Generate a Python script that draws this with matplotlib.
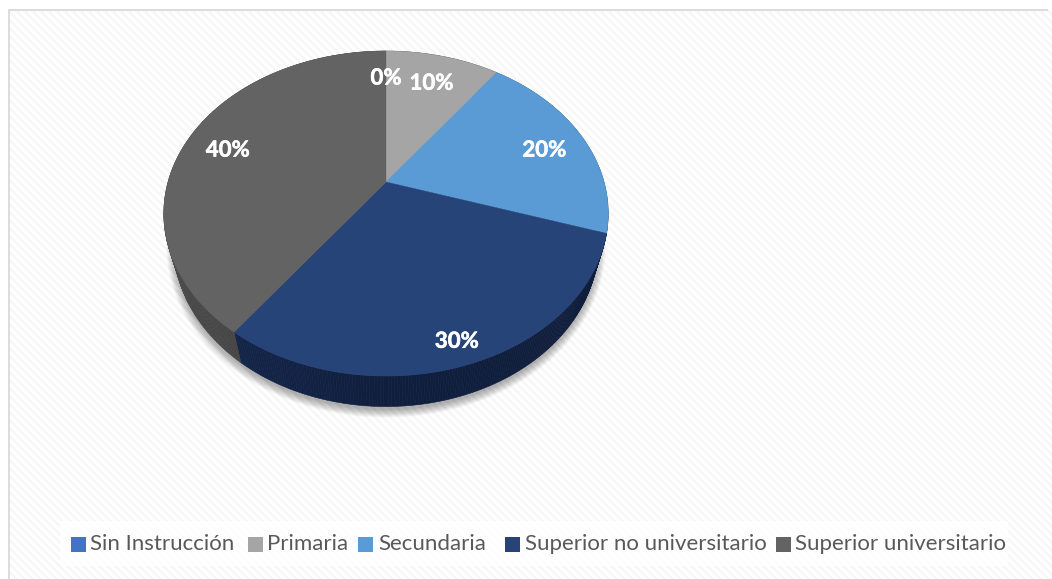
import numpy as np
import matplotlib
matplotlib.use("Agg")
import matplotlib.pyplot as plt
import matplotlib.patheffects as pe
from matplotlib.patches import Polygon, Rectangle, Ellipse

categories = ["Sin Instrucción", "Primaria", "Secundaria", "Superior no universitario", "Superior universitario"]
values = [0, 10, 20, 30, 40]
labels = ["0%", "10%", "20%", "30%", "40%"]
colors = ["#4472c4", "#a5a5a5", "#5b9bd5", "#264478", "#636363"]
side_colors = ["#2a4a85", "#6e6e6e", "#3c6d9b", "#13254a", "#474747"]

W, H = 1052, 579
fig = plt.figure(figsize=(W / 100, H / 100), dpi=100)
ax = fig.add_axes([0, 0, 1, 1])
ax.set_xlim(0, W)
ax.set_ylim(H, 0)
ax.axis("off")

# striped backdrop
yy, xx = np.mgrid[0:H, 0:W]
bg = np.where(((xx - yy) % 8) < 4, 1.0, 0.965)
bg[(xx < 8) | (yy < 9)] = 1.0
ax.imshow(bg, cmap="gray", vmin=0, vmax=1, extent=(0, W, H, 0), aspect="auto",
          interpolation="bilinear", zorder=0)
ax.add_patch(Rectangle((7.5, 8.5), 1040, 2, fc="#dcdcdc", ec="none", zorder=1))
ax.add_patch(Rectangle((7.5, 8.5), 2, 570, fc="#dcdcdc", ec="none", zorder=1))

# perspective projection of the pie disc
CX, CY, C, A, K = 386.0, 182.0, 218.0, 156.4, 0.194
DEPTH, XSCALE = 30.5, 0.955


def project(theta, r=1.0, lower=False):
    u, v = r * np.sin(theta), r * np.cos(theta)
    d = 1 + K * v
    x, y = C * u / d, A * v / d
    if lower:
        return CX + XSCALE * x, CY - y + DEPTH
    return CX + x, CY - y


# soft shadow
ell_cy = 213.5 + DEPTH
for g in range(1, 15):
    ax.add_patch(Ellipse((386, ell_cy + 3), 2 * (211 + 0.62 * g), 2 * (162 + 0.62 * g),
                         fc="#000000", ec="none", alpha=0.024, zorder=2))

fractions = np.array(values, dtype=float) / sum(values)
edges = np.concatenate([[0], np.cumsum(fractions)]) * 2 * np.pi

# side wall
for i in range(len(values)):
    if values[i] == 0:
        continue
    n = max(int(values[i] * 6), 2)
    ts = np.linspace(edges[i], edges[i + 1], n + 1)
    for t0, t1 in zip(ts[:-1], ts[1:]):
        x00, y00 = project(t0)
        x01, y01 = project(t1)
        x10, y10 = project(t1, lower=True)
        x11, y11 = project(t0, lower=True)
        mid = 0.5 * (t0 + t1)
        shade = 0.82 + 0.28 * abs(np.sin(mid)) * (np.sin(mid) < 0)
        rgb = np.clip(np.array(matplotlib.colors.to_rgb(side_colors[i])) * shade, 0, 1)
        ax.add_patch(Polygon([(x00, y00), (x01, y01), (x10, y10), (x11, y11)],
                             fc=rgb, ec=rgb, lw=0.4, zorder=3))

# top face
for i in range(len(values)):
    if values[i] == 0:
        continue
    ts = np.linspace(edges[i], edges[i + 1], 200)
    xs, ys = project(ts)
    pts = np.column_stack([np.r_[CX, xs], np.r_[CY, ys]])
    ax.add_patch(Polygon(pts, closed=True, fc=colors[i], ec=colors[i], lw=0.3, zorder=4))

# data labels
label_r = [0.78, 0.77, 0.80, 0.88, 0.80]
label_dy = [2, 1.5, 5, 3, 5]
for i, lab in enumerate(labels):
    mid = 0.5 * (edges[i] + edges[i + 1])
    x, y = project(mid, label_r[i])
    ax.text(x, y + label_dy[i], lab, color="white", fontsize=16, fontweight="bold", family="Lato",
            ha="center", va="center", zorder=6,
            path_effects=[pe.withStroke(linewidth=0.4, foreground="white")])

# legend
ax.add_patch(Rectangle((60, 521), 948, 45, fc="white", ec="none", alpha=0.8, zorder=1.5))
marker_x = [71, 248, 358, 505, 776]
text_x = [90, 267, 378, 525, 795]
for mx, tx, name, col in zip(marker_x, text_x, categories, colors):
    ax.add_patch(Rectangle((mx, 537), 15, 15, fc=col, ec="none", zorder=5))
    ax.text(tx, 544, name, color="#595959", fontsize=16, family="Lato",
            ha="left", va="center", zorder=5)

fig.savefig("out.png", dpi=100)
